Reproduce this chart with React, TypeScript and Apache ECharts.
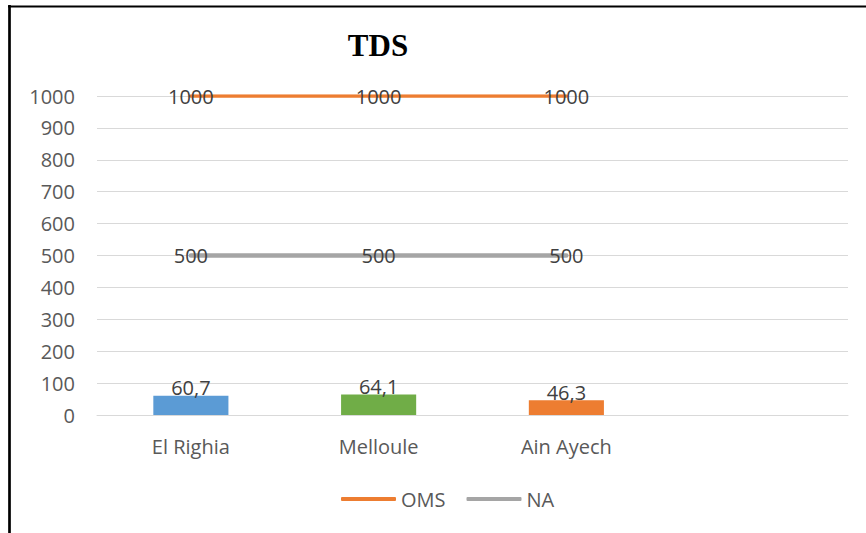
import React, { useEffect, useRef } from "react";
import * as echarts from "echarts";

const categories = ["El Righia", "Melloule", "Ain Ayech", ""];
const tdsValues = [60.7, 64.1, 46.3];
const barColors = ["#5B9BD5", "#70AD47", "#ED7D31"];
const omsValues = [1000, 1000, 1000];
const naValues = [500, 500, 500];

const FONT = "'Open Sans', sans-serif";

export default function App() {
  const ref = useRef<HTMLDivElement>(null);
  useEffect(() => {
    if (!ref.current) return;
    const chart = echarts.init(ref.current, null, { renderer: "svg" });
    const fmt = (v: number) => String(v).replace(".", ",");
    chart.setOption({
      animation: false,
      backgroundColor: "#ffffff",
      title: {
        text: "TDS",
        left: 373,
        top: 25,
        textAlign: "center",
        textStyle: {
          fontFamily: "'Liberation Serif', 'Times New Roman', serif",
          fontWeight: "bold",
          fontSize: 31,
          color: "#000000",
        },
      },
      legend: {
        data: ["OMS", "NA"],
        left: 341,
        top: 489,
        padding: 0,
        icon: "roundRect",
        itemWidth: 55,
        itemHeight: 4,
        itemGap: 21,
        textStyle: { fontFamily: FONT, fontSize: 20, color: "#595959" },
      },
      grid: { left: 97, right: 18, top: 96, bottom: 118, containLabel: false },
      xAxis: {
        type: "category",
        data: categories,
        axisLine: { show: true, lineStyle: { color: "#D9D9D9", width: 1 } },
        axisTick: { show: false },
        axisLabel: { fontFamily: FONT, fontSize: 20, color: "#595959", margin: 21 },
      },
      yAxis: {
        type: "value",
        min: 0,
        max: 1000,
        interval: 100,
        axisLine: { show: false },
        axisTick: { show: false },
        splitLine: { lineStyle: { color: "#D9D9D9", width: 1 } },
        axisLabel: {
          fontFamily: FONT,
          fontSize: 20,
          color: "#595959",
          margin: 22,
          formatter: (v: number) => String(v),
        },
      },
      series: [
        {
          name: "TDS",
          type: "bar",
          barWidth: "40%",
          data: tdsValues.map((v, i) => ({ value: v, itemStyle: { color: barColors[i] } })),
          label: {
            show: true,
            position: "top",
            distance: -2,
            fontFamily: FONT,
            fontSize: 20,
            color: "#404040",
            formatter: (p: any) => fmt(p.value),
          },
          z: 2,
        },
        {
          name: "OMS",
          type: "line",
          data: omsValues,
          symbol: "circle",
          symbolSize: 0,
          lineStyle: { color: "#ED7D31", width: 3.5, cap: "round" },
          itemStyle: { color: "#ED7D31" },
          label: {
            show: true,
            position: "inside",
            fontFamily: FONT,
            fontSize: 20,
            color: "#404040",
            formatter: (p: any) => fmt(p.value),
          },
          z: 3,
        },
        {
          name: "NA",
          type: "line",
          data: naValues,
          symbol: "circle",
          symbolSize: 0,
          lineStyle: { color: "#A5A5A5", width: 4.5, cap: "round" },
          itemStyle: { color: "#A5A5A5" },
          label: {
            show: true,
            position: "inside",
            fontFamily: FONT,
            fontSize: 20,
            color: "#404040",
            formatter: (p: any) => fmt(p.value),
          },
          z: 3,
        },
      ],
      graphic: [
        {
          type: "line",
          shape: { x1: 9.5, y1: 5, x2: 9.5, y2: 533 },
          style: { stroke: "#000000", lineWidth: 2.7 },
        },
        {
          type: "line",
          shape: { x1: 8, y1: 6.5, x2: 866, y2: 6.5 },
          style: { stroke: "#000000", lineWidth: 1.8 },
        },
      ],
    });
    return () => chart.dispose();
  }, []);
  return (
    <div
      ref={ref}
      style={{ position: "fixed", left: 0, top: 0, width: 866, height: 533 }}
    />
  );
}
